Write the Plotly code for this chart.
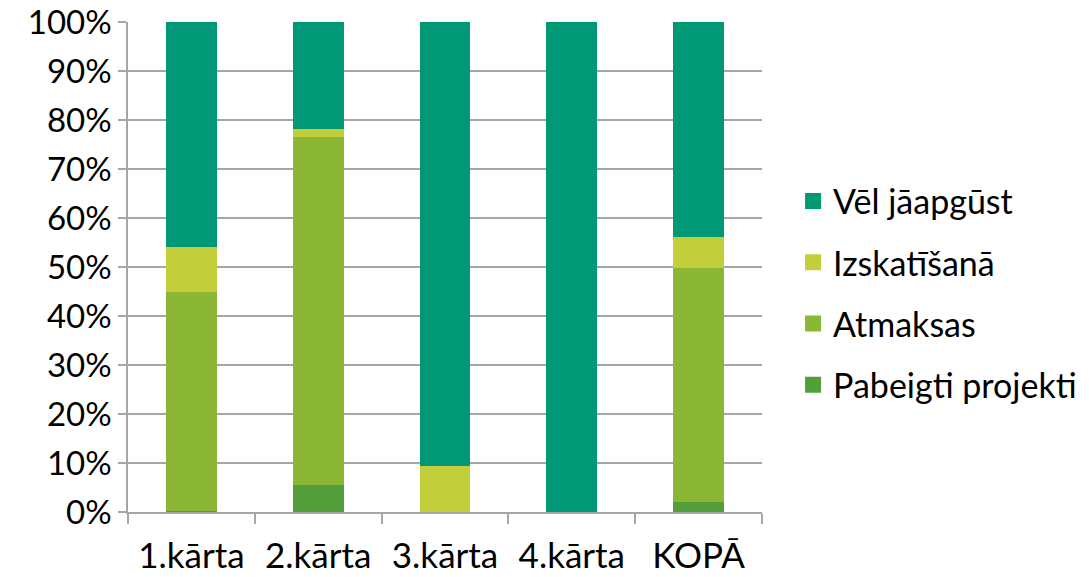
import plotly.graph_objects as go

categories = ["1.kārta", "2.kārta", "3.kārta", "4.kārta", "KOPĀ"]
pabeigti = [0.3, 5.5, 0, 0, 2.0]
atmaksas = [44.6, 71.0, 0, 0, 47.8]
izskatisana = [9.2, 1.7, 9.4, 0, 6.3]
vel = [45.9, 21.8, 90.6, 100, 43.9]

series = [
    ("Pabeigti projekti", pabeigti, "#529E3A"),
    ("Atmaksas", atmaksas, "#8BB734"),
    ("Izskatīšanā", izskatisana, "#C3CF3A"),
    ("Vēl jāapgūst", vel, "#009875"),
]

fig = go.Figure()
for name, vals, color in series:
    fig.add_trace(go.Bar(x=categories, y=vals, name=name, showlegend=False,
                         marker=dict(color=color, line=dict(width=0))))
for name, vals, color in reversed(series):
    fig.add_trace(go.Scatter(x=[None], y=[None], mode="markers", name=name,
                             legendgroup=name,
                             marker=dict(symbol="square", size=21, color=color)))

font = "Lato, 'Open Sans', sans-serif"
fig.update_layout(
    barmode="stack",
    bargap=0.6,
    width=1089, height=577,
    margin=dict(l=128, r=327, t=22, b=65, autoexpand=False),
    plot_bgcolor="white", paper_bgcolor="white",
    font=dict(family=font, size=33, color="#000000"),
    legend=dict(traceorder="grouped", x=1.049, y=0.447, xanchor="left", yanchor="middle",
                font=dict(size=34), itemsizing="trace", tracegroupgap=14),
    xaxis=dict(showline=True, linecolor="#A6A6A6", linewidth=1.5, ticks="outside",
               tickson="boundaries", ticklen=10, tickcolor="#A6A6A6", tickwidth=1.5,
               showgrid=False, automargin=False, ticklabelstandoff=12,
               tickfont=dict(size=35)),
    yaxis=dict(range=[0, 100], tickvals=list(range(0, 101, 10)),
               ticktext=[f"{v}%" for v in range(0, 101, 10)],
               showline=True, linecolor="#A6A6A6", linewidth=1.5, ticks="outside",
               ticklen=8, tickcolor="#A6A6A6", tickwidth=1.5, automargin=False,
               ticklabeloverflow="allow",
               showgrid=True, gridcolor="#A6A6A6", gridwidth=1.5, zeroline=False),
)
fig.write_html("out.html", config={"displayModeBar": False},
               post_script="document.body.style.margin='0';")
